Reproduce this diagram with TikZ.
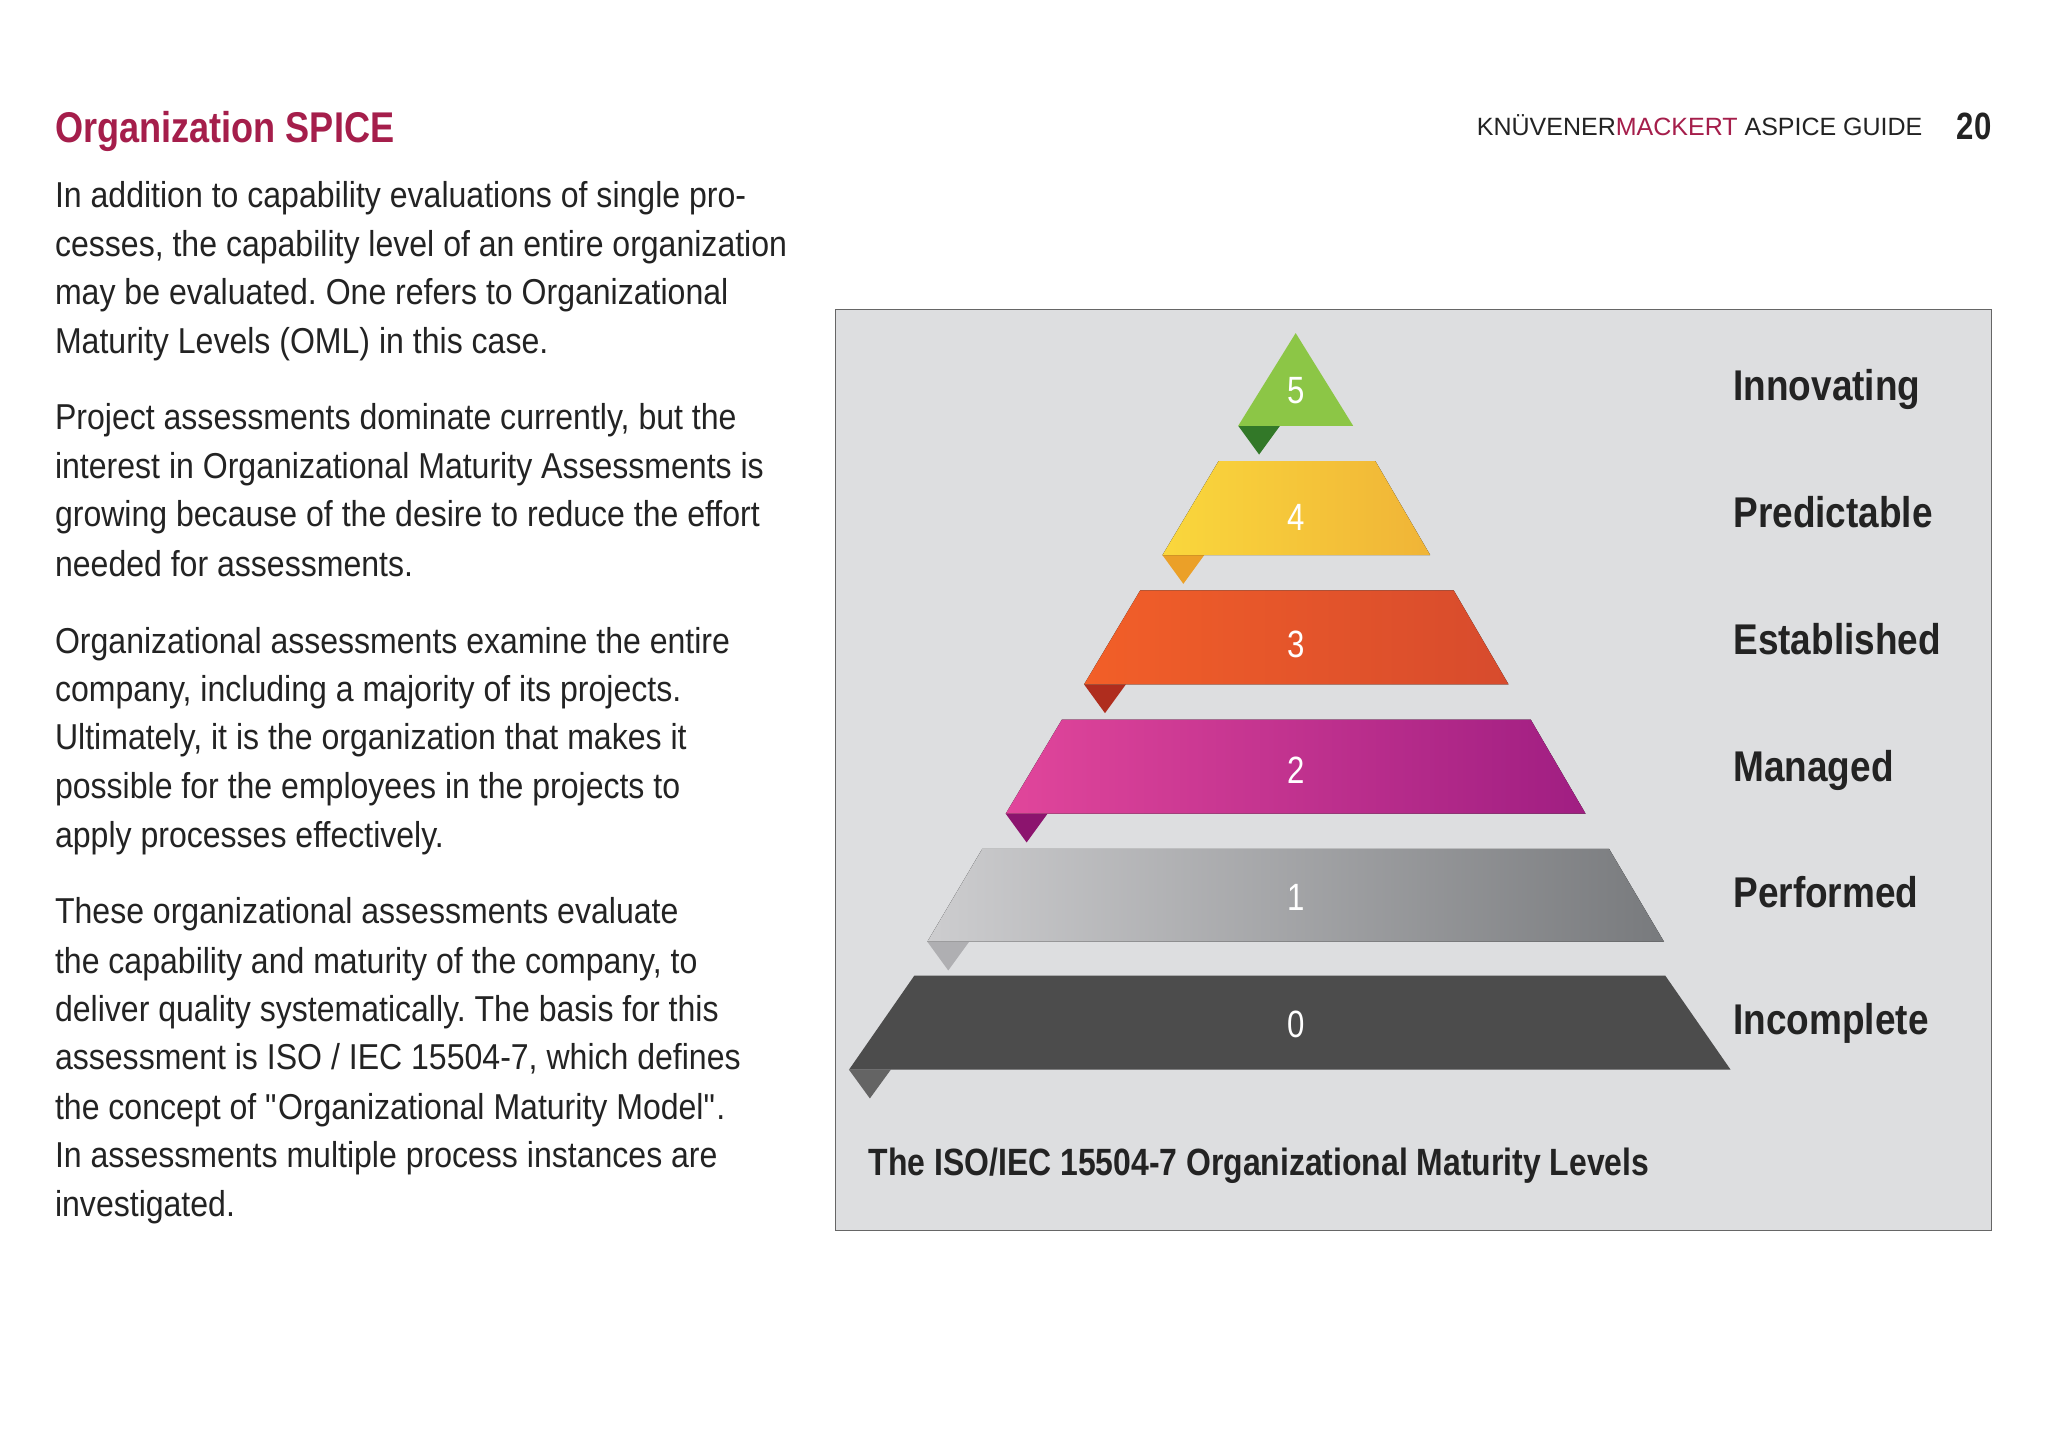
\documentclass[tikz,border=0pt]{standalone}
\usepackage{fontspec}
\setmainfont{Liberation Sans}[FakeStretch=0.82]
\newfontfamily\bodyf{Liberation Sans}[FakeStretch=0.89]
\newfontfamily\labf{Liberation Sans}[FakeStretch=0.86]
\newfontfamily\capf{Liberation Sans}[FakeStretch=0.84]
\newfontfamily\hdr{Liberation Sans}
\frenchspacing
\definecolor{tcol}{RGB}{165,30,75}
\definecolor{boxg}{RGB}{221,222,224}
\definecolor{txt}{RGB}{35,35,35}
\definecolor{b0}{RGB}{76,76,76}
\definecolor{t0}{RGB}{100,100,100}
\definecolor{b1l}{RGB}{205,205,207}\definecolor{b1r}{RGB}{120,122,125}\definecolor{t1}{RGB}{175,175,178}
\definecolor{b2l}{RGB}{225,70,155}\definecolor{b2r}{RGB}{160,30,130}\definecolor{t2}{RGB}{140,20,110}
\definecolor{b3l}{RGB}{242,95,40}\definecolor{b3r}{RGB}{215,75,45}\definecolor{t3}{RGB}{175,45,30}
\definecolor{b4l}{RGB}{250,215,60}\definecolor{b4r}{RGB}{240,180,55}\definecolor{t4}{RGB}{235,160,40}
\definecolor{b5}{RGB}{140,198,70}\definecolor{t5}{RGB}{50,120,40}
\begin{document}
\begin{tikzpicture}[x=1.306pt,y=-1.306pt,
 body/.style={anchor=base west,inner sep=0,font=\bodyf\fontsize{36}{40}\selectfont,text=txt},
 lab/.style={anchor=base west,inner sep=0,font=\labf\fontsize{43}{46}\selectfont\bfseries,text=txt},
 num/.style={inner sep=0,font=\fontsize{38}{42}\selectfont,text=white}]
\useasboundingbox (0,0) rectangle (1568,1112.5);
\fill[white] (0,0) rectangle (1568,1112.5);
\node[anchor=base west,inner sep=0,text=tcol,font=\capf\fontsize{43}{46}\selectfont\bfseries] (title) at (42,109) {Organization SPICE};
\node[anchor=base east,inner sep=0,font=\fontsize{38}{40}\selectfont\bfseries,text=txt] (pg) at (1525,107) {20};
\node[anchor=base east,inner sep=0,font=\hdr\fontsize{25}{28}\selectfont,text=txt] (hd) at (1472,104) {KNÜVENER\textcolor{tcol}{MACKERT} ASPICE GUIDE};
\foreach \t/\y [count=\i] in {
 In addition to capability evaluations of single pro-/159,
 {cesses, the capability level of an entire organization}/196,
 may be evaluated. One refers to Organizational/233,
 Maturity Levels (OML) in this case./271,
 {Project assessments dominate currently, but the}/329,
 interest in Organizational Maturity Assessments is/366,
 growing because of the desire to reduce the effort/403,
 needed for assessments./441,
 Organizational assessments examine the entire/500,
 {company, including a majority of its projects.}/537,
 {Ultimately, it is the organization that makes it}/574,
 possible for the employees in the projects to/611,
 apply processes effectively./649,
 These organizational assessments evaluate/707,
 {the capability and maturity of the company, to}/745,
 deliver quality systematically. The basis for this/782,
 {assessment is ISO / IEC 15504-7, which defines}/819,
 the concept of \textquotedbl Organizational Maturity Model\textquotedbl./857,
 In assessments multiple process instances are/894,
 investigated./931}
 \node[body] (p\i) at (42,\y) {\t};
\draw[fill=boxg,draw=gray!80!black,line width=1pt] (640,237) rectangle (1525,942);
\fill[t0] (650,819)--(682,819)--(666,841)--cycle;
\fill[b0] (700,747)--(1275,747)--(1325,819)--(650,819)--cycle;
\fill[t1] (710,721)--(742,721)--(726,743)--cycle;
\fill[left color=b1l,right color=b1r] (752,650)--(1232,650)--(1274,721)--(710,721)--cycle;
\fill[t2] (770,623)--(802,623)--(786,645)--cycle;
\fill[left color=b2l,right color=b2r] (813,551)--(1172,551)--(1214,623)--(770,623)--cycle;
\fill[t3] (830,524)--(862,524)--(846,546)--cycle;
\fill[left color=b3l,right color=b3r] (873,452)--(1113,452)--(1155,524)--(830,524)--cycle;
\fill[t4] (890,425)--(922,425)--(906,447)--cycle;
\fill[left color=b4l,right color=b4r] (933,353)--(1053,353)--(1095,425)--(890,425)--cycle;
\fill[t5] (948,326)--(980,326)--(964,348)--cycle;
\fill[b5] (992,255)--(1036,326)--(948,326)--cycle;
\foreach \n/\y in {5/299,4/396,3/493,2/590,1/687,0/784} \node[num] (n\n) at (992,\y) {\n};
\foreach \t/\y [count=\i] in {Innovating/307,Predictable/404,Established/501,Managed/598,Performed/695,Incomplete/792}
 \node[lab] (l\i) at (1327,\y) {\t};
\node[anchor=base west,inner sep=0,font=\capf\fontsize{38}{40}\selectfont\bfseries,text=txt] (cap) at (665,900) {The ISO/IEC 15504-7 Organizational Maturity Levels};
\end{tikzpicture}
\end{document}
